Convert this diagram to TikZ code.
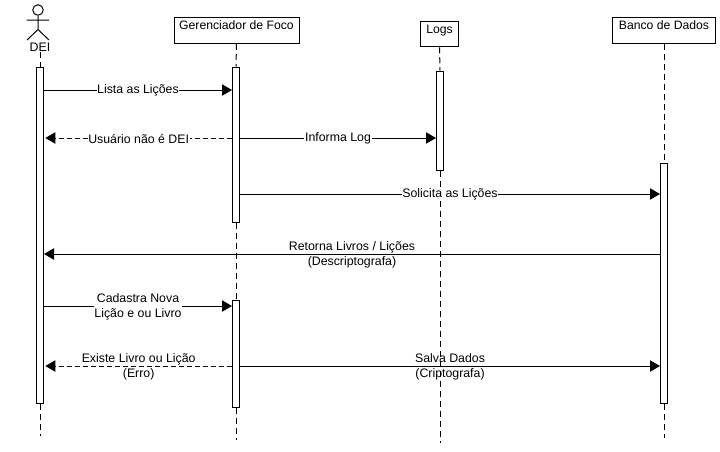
\documentclass[tikz,border=0pt]{standalone}
\usepackage{fontspec}
\setmainfont{Liberation Sans}
\usetikzlibrary{arrows.meta}
\tikzset{
  px/.style={x=0.75pt,y=-0.75pt},
  head/.style={draw,line width=0.75pt,minimum height=25.5*0.75pt,inner sep=0pt,fill=white,font=\fontsize{9.15}{10}\selectfont},
  bar/.style={draw,line width=0.75pt,fill=white,minimum width=5.25pt,inner sep=0pt},
  life/.style={line width=0.75pt,dash pattern=on 4.5pt off 3pt},
  msg/.style={line width=0.75pt,-{Triangle[length=7.5pt,width=8.5pt]}},
  ret/.style={line width=0.75pt,dash pattern=on 3.75pt off 2.25pt,-{Triangle[length=7.5pt,width=8.5pt,sep=0pt]}},
  lbl/.style={fill=white,inner xsep=0.5pt,inner ysep=0.5pt,yshift=-0.5pt,font=\fontsize{9.25}{11.25}\selectfont,align=center},
  txt/.style={inner sep=0pt,font=\fontsize{9.25}{11.25}\selectfont,align=center},
}
\begin{document}
\begin{tikzpicture}[px]
\useasboundingbox (0,0) rectangle (720,451);
% heads
\node[head,minimum width=125*0.75pt,text depth=7pt,text height=6pt] (hG) at (236.5,30.5) {Gerenciador de Foco};
\node[head,minimum width=38*0.75pt,text depth=7pt,text height=6pt] (hL) at (439.5,34) {Logs};
\node[head,minimum width=103*0.75pt,text depth=7pt,text height=6pt] (hB) at (664,30.5) {Banco de Dados};
% actor
\node[draw,circle,line width=0.75pt,minimum size=10.5*0.75pt,inner sep=0pt] (aHead) at (38,10) {};
\coordinate (aHip) at (38,29.5);
\coordinate (aL) at (27,40);
\coordinate (aR) at (49,40);
\coordinate (aArmL) at (26.5,20);
\coordinate (aArmR) at (49,20);
\draw[line width=0.75pt] (aHead.south) -- (aHip) (aArmL) -- (aArmR) (aL) -- (aHip) -- (aR);
\node[txt] (aName) at (40,47) {DEI};
% activation bars
\node[bar,minimum height=336*0.75pt] (bA) at (40,235) {};
\node[bar,minimum height=155*0.75pt] (bG1) at (236,144.5) {};
\node[bar,minimum height=107*0.75pt] (bG2) at (236,353.5) {};
\node[bar,minimum height=99*0.75pt] (bL) at (440,120.5) {};
\node[bar,minimum height=240*0.75pt] (bB) at (664,283) {};
% lifelines
\coordinate (eA) at (40,436);
\coordinate (eG) at (236,440);
\coordinate (eL) at (440,443);
\coordinate (eB) at (664,438);
\draw[life] (aName.south -| bA) -- (bA.north);
\draw[life] (bA.south) -- (eA);
\draw[life] (hG.south) -- (bG1.north);
\draw[life] (bG1.south) -- (bG2.north);
\draw[life] (bG2.south) -- (eG);
\draw[life] (hL.south) -- (bL.north);
\draw[life] (bL.south) -- (eL);
\draw[life] (hB.south) -- (bB.north);
\draw[life] (bB.south) -- (eB);
% messages
\draw[msg] (bA.east |- 0,90) -- node[lbl] (m1) {Lista as Lições} (bG1.west |- 0,90);
\draw[ret] (bG1.west |- 0,138) -- node[lbl] (m2) {Usuário não é DEI} ([xshift=1pt]bA.east |- 0,138);
\draw[msg] (bG1.east |- 0,138) -- node[lbl] (m3) {Informa Log} (bL.west |- 0,138);
\draw[msg] (bG1.east |- 0,194) -- node[lbl] (m4) {Solicita as Lições} (bB.west |- 0,194);
\draw[msg] (bB.west |- 0,254) -- node[txt,yshift=-0.4pt] (m5) {Retorna Livros / Lições\\(Descriptografa)} (bA.east |- 0,254);
\draw[msg] (bA.east |- 0,306) -- node[lbl] (m6) {Cadastra Nova\\Lição e ou Livro} (bG2.west |- 0,306);
\draw[ret] (bG2.west |- 0,366) -- node[txt,yshift=-0.4pt] (m7) {Existe Livro ou Lição\\(Erro)} ([xshift=1pt]bA.east |- 0,366);
\draw[msg] (bG2.east |- 0,366) -- node[txt,yshift=-0.4pt] (m8) {Salva Dados\\(Criptografa)} (bB.west |- 0,366);
\end{tikzpicture}
\end{document}
